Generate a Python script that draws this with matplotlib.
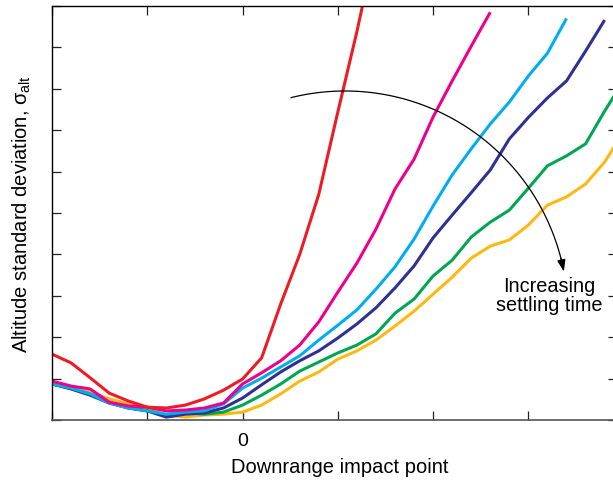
import numpy as np
import matplotlib
matplotlib.use("Agg")
import matplotlib.pyplot as plt

plt.rcParams['font.family'] = ['Liberation Sans', 'DejaVu Sans']
plt.rcParams['mathtext.fontset'] = 'custom'
plt.rcParams['mathtext.rm'] = 'Liberation Sans'
plt.rcParams['mathtext.it'] = 'Liberation Sans'

# Downrange impact point (tick units, 0 = nominal impact point)
x_grid = [-2.0, -1.8, -1.6, -1.4, -1.2, -1.0, -0.8, -0.6, -0.4, -0.2,
          0.0, 0.2, 0.4, 0.6, 0.8, 1.0, 1.2, 1.4, 1.6, 1.8,
          2.0, 2.2, 2.4, 2.6, 2.8, 3.0, 3.2, 3.4, 3.6, 3.8, 4.0]

# Altitude standard deviation, one series per settling time (shortest first)
sigma_red = [1.59, 1.38, 1.02, 0.65, 0.46, 0.31, 0.29, 0.36, 0.51, 0.72,
             0.99, 1.50, 2.80, 4.00, 5.45, 7.44, 9.38, 11.5]
sigma_magenta = [0.94, 0.82, 0.75, 0.43, 0.34, 0.31, 0.22, 0.24, 0.29, 0.41,
                 0.87, 1.14, 1.43, 1.81, 2.37, 3.09, 3.79, 4.61, 5.58, 6.30,
                 7.32, 8.19, 9.03, 9.85]
sigma_cyan = [0.87, 0.77, 0.63, 0.41, 0.29, 0.22, 0.14, 0.19, 0.22, 0.39,
              0.77, 1.01, 1.28, 1.55, 1.93, 2.29, 2.66, 3.16, 3.70, 4.37,
              5.17, 5.92, 6.55, 7.15, 7.68, 8.31, 8.86, 9.70]
sigma_navy = [0.87, 0.75, 0.60, 0.41, 0.29, 0.22, 0.07, 0.14, 0.17, 0.29,
              0.53, 0.85, 1.16, 1.43, 1.67, 1.98, 2.32, 2.71, 3.19, 3.72,
              4.40, 4.95, 5.49, 6.04, 6.79, 7.31, 7.78, 8.19, 8.91, 9.66]
sigma_green = [0.87, 0.76, 0.63, 0.43, 0.31, 0.22, 0.12, 0.17, 0.14, 0.19,
               0.36, 0.60, 0.87, 1.18, 1.40, 1.62, 1.81, 2.08, 2.58, 2.92,
               3.48, 3.86, 4.42, 4.78, 5.07, 5.60, 6.14, 6.38, 6.67, 7.46, 8.2]
sigma_yellow = [0.90, 0.80, 0.68, 0.51, 0.39, 0.27, 0.12, 0.07, 0.12, 0.14,
                0.19, 0.36, 0.63, 0.94, 1.16, 1.47, 1.67, 1.93, 2.27, 2.63,
                3.04, 3.45, 3.91, 4.20, 4.35, 4.71, 5.19, 5.39, 5.70, 6.23, 6.96]

series = [  # drawn bottom to top
    (sigma_yellow, '#FDB913'),
    (sigma_green, '#00A651'),
    (sigma_navy, '#2E3192'),
    (sigma_cyan, '#00AEEF'),
    (sigma_magenta, '#EC008C'),
    (sigma_red, '#ED1C24'),
]

x_ticks = [-2, -1, 0, 1, 2, 3]
x_tick_labels = ['', '', '0', '', '', '']
y_ticks = [0, 1, 2, 3, 4, 5, 6, 7, 8, 9, 10]

W, H = 613, 481
fig = plt.figure(figsize=(W / 100, H / 100), dpi=100)
ax_l, ax_r, ax_t, ax_b = 52, 617, 7, 421
ax = fig.add_axes([ax_l / W, (H - ax_b) / H, (ax_r - ax_l) / W, (ax_b - ax_t) / H])

for vals, col in series:
    ax.plot(x_grid[:len(vals)], vals, color=col, lw=2.2, solid_joinstyle='miter',
            solid_capstyle='butt')

ax.set_xlim(-2.0, 3.93)
ax.set_ylim(0, 10)
ax.set_xticks(x_ticks)
ax.set_xticklabels(x_tick_labels, fontsize=14)
ax.set_yticks(y_ticks)
ax.set_yticklabels([])
ax.tick_params(direction='in', length=6.3, width=0.9, top=True, right=True,
               color='#222222', pad=8.6)
for side in ['left', 'top', 'right']:
    ax.spines[side].set_linewidth(1.0)
    ax.spines[side].set_color('black')
ax.spines['bottom'].set_linewidth(1.2)
ax.spines['bottom'].set_color('#555555')

ax.set_xlabel('Downrange impact point', fontsize=14.5)
ax.xaxis.label.set_va('center')
ax.xaxis.set_label_coords((340 - ax_l) / (ax_r - ax_l), (ax_b - 468) / (ax_b - ax_t))
ax.set_ylabel(r'Altitude standard deviation, $\sigma_{\mathrm{alt}}$', fontsize=14.5)
ax.yaxis.label.set_va('center')
ax.yaxis.set_label_coords((21.5 - ax_l) / (ax_r - ax_l), 0.5)

# curved arrow annotation (circular arc in pixel space)
def to_axes(px, py):
    return (px - ax_l) / (ax_r - ax_l), (ax_b - py) / (ax_b - ax_t)

cx, cy, r = 345, 315, 223
t = np.radians(np.linspace(104, 13.0, 120))
arc = [to_axes(cx + r * np.cos(a), cy - r * np.sin(a)) for a in t]
ax.plot([p[0] for p in arc], [p[1] for p in arc], color='black', lw=0.9,
        transform=ax.transAxes, clip_on=False)
t_end = np.radians(11.0)
tip = to_axes(cx + r * np.cos(t_end), cy - r * np.sin(t_end))
ax.annotate('', xy=tip, xycoords='axes fraction', xytext=arc[-3], textcoords='axes fraction',
            arrowprops=dict(arrowstyle='-|>,head_length=0.7,head_width=0.25', color='black',
                            lw=0.9, shrinkA=0, shrinkB=0, mutation_scale=10))

tx, ty = to_axes(549, 296)
ax.text(tx, ty, 'Increasing\nsettling time', transform=ax.transAxes, ha='center',
        va='center', fontsize=14.3, linespacing=1.0)

fig.savefig('out.png', dpi=100)
